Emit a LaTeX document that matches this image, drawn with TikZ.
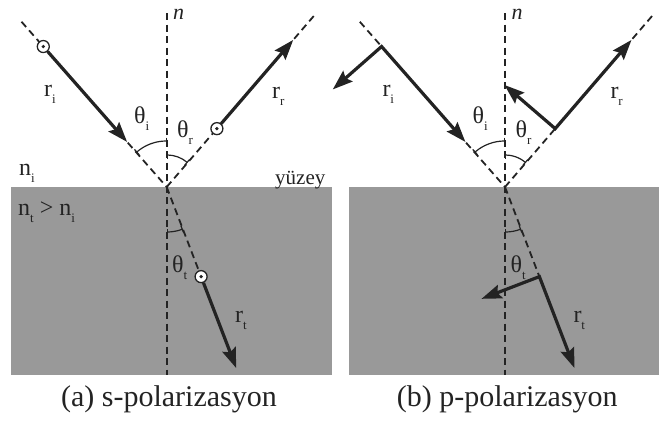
\documentclass[tikz,border=0pt]{standalone}
\usepackage{fontspec}
\setmainfont{Liberation Serif}
\usetikzlibrary{arrows.meta}
\definecolor{surf}{RGB}{153,153,153}
\definecolor{ink}{RGB}{35,35,35}
\newcommand\sbx[1]{\raisebox{-0.3em}{\fontsize{13}{13}\selectfont #1}}
\begin{document}
\begin{tikzpicture}[x=1pt,y=-1pt,
  nline/.style={ink, line width=1.8pt, dash pattern=on 7pt off 4.5pt},
  ray/.style={ink, line width=3.2pt, -{Stealth[length=20pt,width=14pt,inset=3pt]}},
  pray/.style={ink, line width=3.2pt, {Stealth[length=20pt,width=14pt,inset=3pt]}-{Stealth[length=20pt,width=14pt,inset=3pt]}},
  angarc/.style={ink, line width=1.2pt, {Bar[width=7pt]}-{Bar[width=7pt]}},
  lbl/.style={font=\rmfamily\fontsize{24}{28}\selectfont, anchor=base west, inner sep=0pt, text=ink},
  captext/.style={font=\rmfamily\fontsize{30}{34}\selectfont, anchor=base, inner sep=0pt, text=ink},
  odot/.style={circle, draw=ink, fill=white, line width=1.3pt, minimum size=12pt, inner sep=0pt}]
\useasboundingbox (0,0) rectangle (659,421);
\foreach \p/\sx/\cp in {a/0/(a) s-polarizasyon, b/338.3/(b) p-polarizasyon}{
\begin{scope}[shift={(\sx,0)}]
  \fill[surf] (11,187) rectangle (332,375);
  \coordinate (\p-O) at (166.7,187);
  \coordinate (\p-Ntop) at (166.7,13);
  \coordinate (\p-Nbot) at (166.7,375);
  \coordinate (\p-I) at ([shift={(-131.3:220)}]\p-O);
  \coordinate (\p-Ic) at ([shift={(-131.3:187)}]\p-O);
  \coordinate (\p-It) at ([shift={(-131.3:60)}]\p-O);
  \coordinate (\p-R) at ([shift={(-49.3:227)}]\p-O);
  \coordinate (\p-Rc) at ([shift={(-49.3:77)}]\p-O);
  \coordinate (\p-Rt) at ([shift={(-49.3:194)}]\p-O);
  \coordinate (\p-Tc) at ([shift={(69:96)}]\p-O);
  \coordinate (\p-Tt) at ([shift={(69:194)}]\p-O);
  \draw[nline] (\p-Ntop) -- (\p-Nbot);
  \draw[nline] (\p-I) -- (\p-O);
  \draw[nline] (\p-O) -- (\p-R);
  \draw[nline] (\p-O) -- (\p-Tc);
  \draw[angarc] ([shift={(-131.3:46)}]\p-O) arc[start angle=-131.3, end angle=-90, radius=46];
  \draw[angarc] ([shift={(-90:32)}]\p-O) arc[start angle=-90, end angle=-49.3, radius=32];
  \draw[angarc] ([shift={(90:45)}]\p-O) arc[start angle=90, end angle=69, radius=45];
  \node[lbl] (\p-thi) at (134,123) {θ\sbx{i}};
  \node[lbl] (\p-thr) at (177,137) {θ\sbx{r}};
  \node[lbl] (\p-tht) at (172,272) {θ\sbx{t}};
  \node[lbl] (\p-ri) at (44,96) {r\sbx{i}};
  \node[lbl] (\p-rr) at (272,98) {r\sbx{r}};
  \node[lbl] (\p-rt) at (235,322) {r\sbx{t}};
  \node[lbl, font=\rmfamily\fontsize{22}{26}\selectfont\itshape] (\p-n) at (173,19) {n};
  \node[captext] (\p-cap) at (169,406) {\cp};
\end{scope}
}
% panel (a): s-polarisation
\node[odot] (a-ci) at (a-Ic) {};
\node[odot] (a-cr) at (a-Rc) {};
\node[odot] (a-ct) at (a-Tc) {};
\foreach \c in {a-ci,a-cr,a-ct} \fill[ink] (\c.center) circle (1.8);
\draw[ray] (a-ci) -- (a-It);
\draw[ray] (a-cr) -- (a-Rt);
\draw[ray] (a-ct) -- (a-Tt);
\node[lbl] (ni) at (19,175) {n\sbx{i}};
\node[lbl] (ntni) at (18,215) {n\sbx{t}\hspace{6pt}>\hspace{6pt}n\sbx{i}};
\node[lbl, font=\rmfamily\fontsize{21}{25}\selectfont] (yz) at (275,184) {yüzey};
% panel (b): p-polarisation
\coordinate (b-Ip) at ([shift={(-0.751*65,0.66*65)}]b-Ic);
\coordinate (b-Rp) at ([shift={(-0.758*67,-0.652*67)}]b-Rc);
\coordinate (b-Tp) at ([shift={(-0.934*62,0.358*62)}]b-Tc);
\draw[pray] (b-Ip) -- (b-Ic) -- (b-It);
\draw[pray] (b-Rp) -- (b-Rc) -- (b-Rt);
\draw[pray] (b-Tp) -- (b-Tc) -- (b-Tt);
\end{tikzpicture}
\end{document}
